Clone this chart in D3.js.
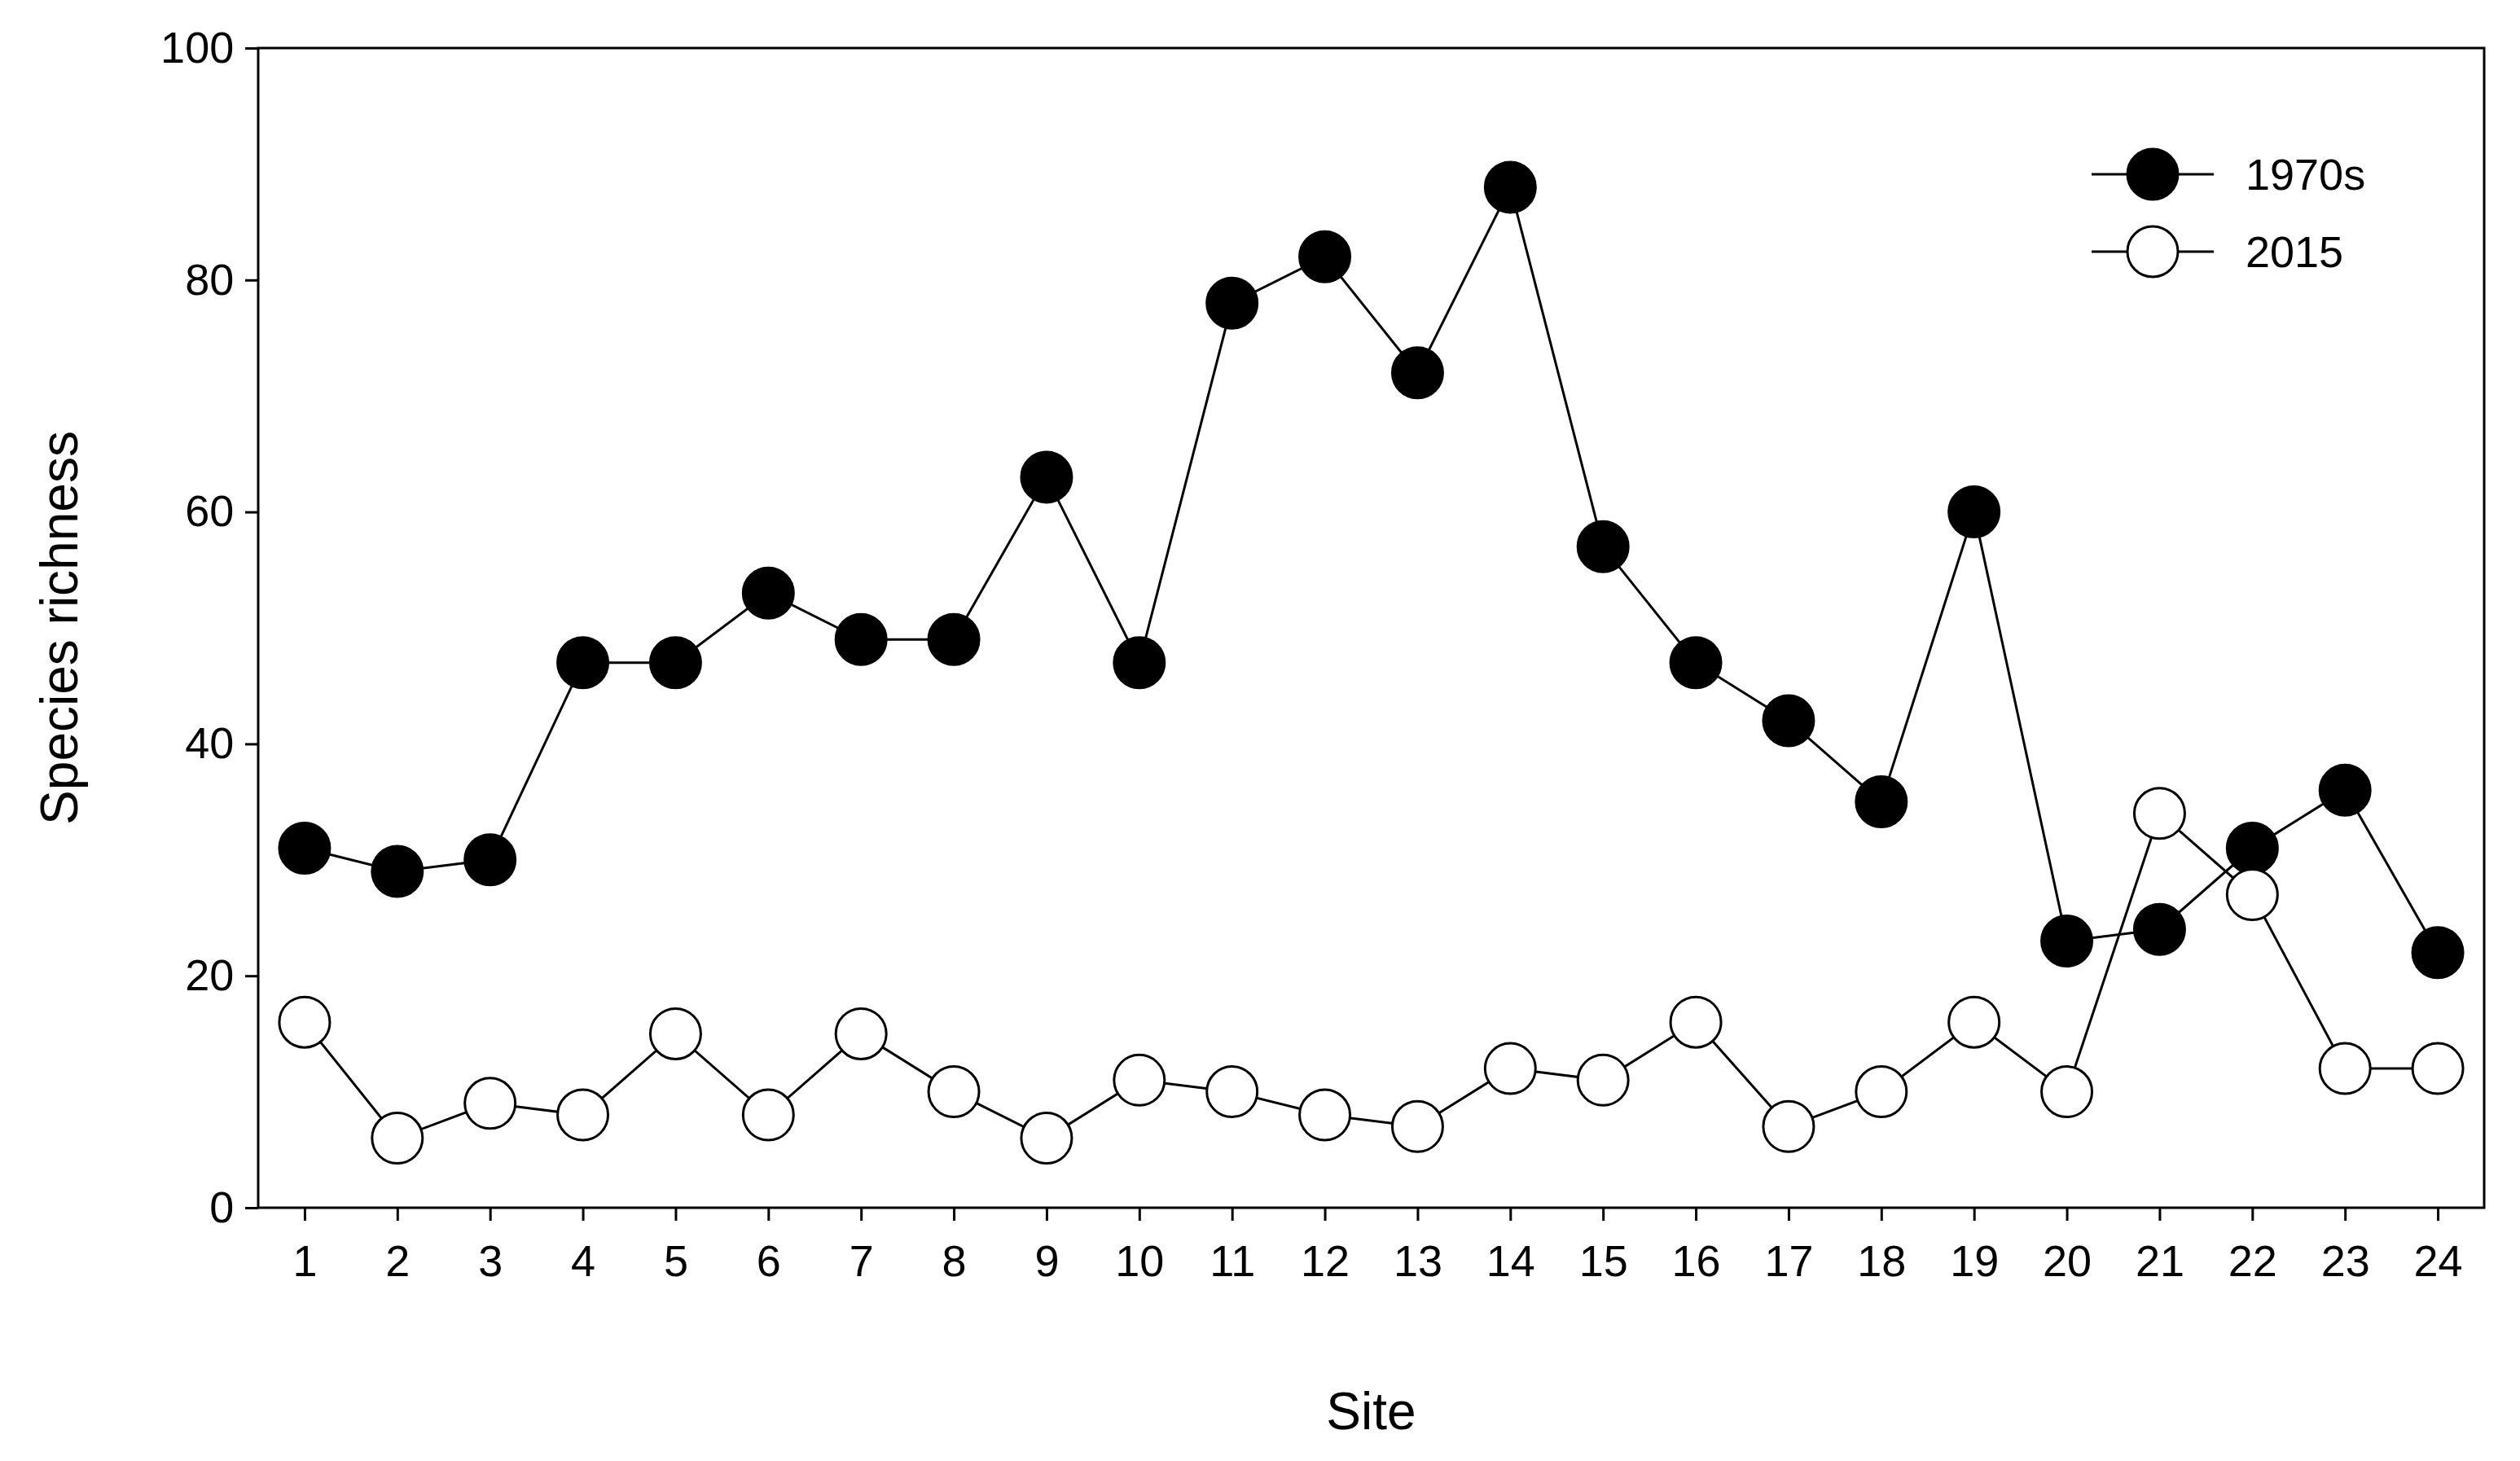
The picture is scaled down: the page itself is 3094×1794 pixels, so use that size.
<!DOCTYPE html><html><head><meta charset="utf-8"><script src="https://cdn.jsdelivr.net/npm/d3@7"></script>
<style>body{margin:0;background:#fff}</style></head><body><svg id="c" width="3094" height="1794"></svg>
<script>
const sites=[1,2,3,4,5,6,7,8,9,10,11,12,13,14,15,16,17,18,19,20,21,22,23,24];
const s1970=[31,29,30,47,47,53,49,49,63,47,78,82,72,88,57,47,42,35,60,23,24,31,36,22];
const s2015=[16,6,9,8,15,8,15,10,6,11,10,8,7,12,11,16,7,10,16,10,34,27,12,12];
const yTicks=[0,20,40,60,80,100];
const svg=d3.select("#c"),F="Arial, Liberation Sans, sans-serif";
const L=317,R=3050,T=59,B=1483;
const x=d3.scaleLinear().domain([0.5,24.5]).range([L,R]);
const y=d3.scaleLinear().domain([0,100]).range([B,T]);
const xa=svg.append("g").attr("transform",`translate(0,${B})`).call(d3.axisBottom(x).tickValues(sites).tickFormat(d3.format("d")).tickSize(16).tickSizeOuter(0));
const ya=svg.append("g").attr("transform",`translate(${L},0)`).call(d3.axisLeft(y).tickValues(yTicks).tickSize(16).tickSizeOuter(0));
[xa,ya].forEach(a=>{a.selectAll("text").attr("font-family",F).attr("font-size",54).attr("fill","#000");a.selectAll("line,path").attr("stroke","#000").attr("stroke-width",3);a.select(".domain").remove();});
xa.selectAll("text").attr("dy","1.2em");ya.selectAll("text").attr("dx","-0.2em");
svg.append("rect").attr("x",L).attr("y",T).attr("width",R-L).attr("height",B-T).attr("fill","none").attr("stroke","#000").attr("stroke-width",3);
svg.append("text").attr("x",(L+R)/2).attr("y",1755).attr("text-anchor","middle").attr("font-family",F).attr("font-size",64).text("Site");
svg.append("text").attr("transform",`translate(95,${(T+B)/2}) rotate(-90)`).attr("text-anchor","middle").attr("font-family",F).attr("font-size",64).text("Species richness");
const line=d3.line().x((d,i)=>x(sites[i])).y(d=>y(d));
[[s1970,"#000"],[s2015,"#fff"]].forEach(([s,f])=>{
svg.append("path").attr("d",line(s)).attr("fill","none").attr("stroke","#000").attr("stroke-width",3);
svg.selectAll(null).data(s).enter().append("circle").attr("cx",(d,i)=>x(sites[i])).attr("cy",d=>y(d)).attr("r",31).attr("fill",f).attr("stroke","#000").attr("stroke-width",3);});
[["1970s","#000",214],["2015","#fff",309]].forEach(([t,f,yy])=>{
svg.append("line").attr("x1",2568).attr("x2",2718).attr("y1",yy).attr("y2",yy).attr("stroke","#000").attr("stroke-width",3);
svg.append("circle").attr("cx",2643).attr("cy",yy).attr("r",31).attr("fill",f).attr("stroke","#000").attr("stroke-width",3);
svg.append("text").attr("x",2757).attr("y",yy).attr("dy","0.35em").attr("font-family",F).attr("font-size",54).text(t);});
</script></body></html>
